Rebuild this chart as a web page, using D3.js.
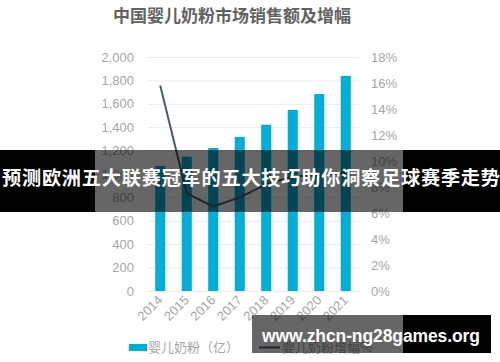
<!DOCTYPE html>
<html>
<head>
<meta charset="utf-8">
<script src="https://cdn.jsdelivr.net/npm/d3@7"></script>
<style>
  body { margin: 0; background: #fff; }
  text { font-family: "Liberation Sans", Arial, sans-serif; }
  .cjk { font-family: "Noto Sans CJK SC", sans-serif; }
</style>
</head>
<body>
<div id="container"></div>
<script>
const years = ["2014", "2015", "2016", "2017", "2018", "2019", "2020", "2021"];
const sales = [1068, 1148, 1222, 1316, 1421, 1547, 1684, 1838];
const growth = [15.8, 7.5, 6.5, 7.2, 8.2, 8.8, 8.9, 9.1];
const leftTicks = [0, 200, 400, 600, 800, 1000, 1200, 1400, 1600, 1800, 2000];
const rightTicks = [0, 2, 4, 6, 8, 10, 12, 14, 16, 18];

const w = 500;
const h = 362;
const plot = { left: 147, right: 359, top: 57, bottom: 291 };

const svg = d3
  .select("#container")
  .append("svg")
  .attr("width", w)
  .attr("height", h);

const x = d3
  .scaleBand()
  .domain(years)
  .range([plot.left, plot.right])
  .paddingInner(0.62)
  .paddingOuter(0.31);

const yL = d3.scaleLinear().domain([0, 2000]).range([plot.bottom, plot.top]);
const yR = d3.scaleLinear().domain([0, 18]).range([plot.bottom, plot.top]);

// title
svg
  .append("text")
  .attr("class", "cjk")
  .attr("x", 232)
  .attr("y", 22)
  .attr("text-anchor", "middle")
  .attr("font-size", 17)
  .attr("font-weight", "bold")
  .attr("fill", "#626262")
  .text("中国婴儿奶粉市场销售额及增幅");

// grid
svg
  .append("g")
  .attr("transform", `translate(${plot.left},0)`)
  .call(d3.axisLeft(yL).tickValues(leftTicks).tickSize(-(plot.right - plot.left)).tickFormat(""))
  .call((g) => g.select(".domain").remove())
  .call((g) => g.selectAll("line").attr("stroke", "#ececec"));

// left axis labels
svg
  .append("g")
  .attr("transform", `translate(${plot.left},0)`)
  .call(d3.axisLeft(yL).tickValues(leftTicks).tickSize(0).tickPadding(13).tickFormat(d3.format(",")))
  .call((g) => g.select(".domain").remove())
  .call((g) => g.selectAll("text").attr("font-size", 13).attr("fill", "#a6a6a6").attr("font-family", "Liberation Sans, Arial, sans-serif"));

// right axis labels
svg
  .append("g")
  .attr("transform", `translate(${plot.right},0)`)
  .call(d3.axisRight(yR).tickValues(rightTicks).tickSize(0).tickPadding(12).tickFormat((d) => d + "%"))
  .call((g) => g.select(".domain").remove())
  .call((g) => g.selectAll("text").attr("font-size", 13).attr("fill", "#a6a6a6").attr("font-family", "Liberation Sans, Arial, sans-serif"));

// bars
svg
  .append("g")
  .selectAll("rect")
  .data(sales)
  .join("rect")
  .attr("x", (d, i) => x(years[i]))
  .attr("y", (d) => yL(d))
  .attr("width", x.bandwidth())
  .attr("height", (d) => yL(0) - yL(d))
  .attr("fill", "#00afd7");

// growth line
const line = d3
  .line()
  .x((d, i) => x(years[i]) + x.bandwidth() / 2)
  .y((d) => yR(d));

svg
  .append("path")
  .datum(growth)
  .attr("fill", "none")
  .attr("stroke", "#4a5a6e")
  .attr("stroke-width", 2)
  .attr("d", line);

// x labels
svg
  .append("g")
  .selectAll("text")
  .data(years)
  .join("text")
  .attr("transform", (d) => `translate(${x(d) + x.bandwidth() / 2 + 3},${plot.bottom + 10}) rotate(-45)`)
  .attr("text-anchor", "end")
  .attr("font-size", 13)
  .attr("fill", "#a6a6a6")
  .text((d) => d);

// legend
const legend = svg.append("g");
legend
  .append("rect")
  .attr("x", 129)
  .attr("y", 344)
  .attr("width", 18)
  .attr("height", 7)
  .attr("fill", "#00afd7");
legend
  .append("text")
  .attr("class", "cjk")
  .attr("x", 148)
  .attr("y", 352)
  .attr("font-size", 13)
  .attr("fill", "#a6a6a6")
  .text("婴儿奶粉（亿）");
legend
  .append("line")
  .attr("x1", 259)
  .attr("x2", 280)
  .attr("y1", 347.5)
  .attr("y2", 347.5)
  .attr("stroke", "#4a5a6e")
  .attr("stroke-width", 2);
legend
  .append("text")
  .attr("class", "cjk")
  .attr("x", 282)
  .attr("y", 352)
  .attr("font-size", 13)
  .attr("fill", "#a6a6a6")
  .text("婴儿奶粉增幅%");

// banner overlay
const imgL = 95;
const imgR = 403;
function shade(y0, y1, x0, x1) {
  svg.append("rect").attr("x", x0).attr("y", y0).attr("width", Math.max(0, imgL - x0)).attr("height", y1 - y0).attr("fill", "#000");
  svg.append("rect").attr("x", Math.max(x0, imgL)).attr("y", y0).attr("width", Math.min(x1, imgR) - Math.max(x0, imgL)).attr("height", y1 - y0).attr("fill", "#000").attr("opacity", 0.6);
  svg.append("rect").attr("x", imgR).attr("y", y0).attr("width", Math.max(0, x1 - imgR)).attr("height", y1 - y0).attr("fill", "#000");
}
shade(150, 212, 0, 500);
svg
  .append("text")
  .attr("class", "cjk")
  .attr("x", 251)
  .attr("y", 185)
  .attr("text-anchor", "middle")
  .attr("font-size", 19.2)
  .attr("font-weight", "bold")
  .attr("fill", "#fff")
  .attr("textLength", 498)
  .text("预测欧洲五大联赛冠军的五大技巧助你洞察足球赛季走势");

shade(315, 353, 252, 491);
svg
  .append("text")
  .attr("x", 371)
  .attr("y", 342)
  .attr("text-anchor", "middle")
  .attr("font-family", "DejaVu Sans, sans-serif")
  .attr("font-size", 17.5)
  .attr("font-weight", "bold")
  .attr("fill", "#fff")
  .attr("textLength", 218)
  .text("www.zhcn-ng28games.org");
</script>
</body>
</html>
